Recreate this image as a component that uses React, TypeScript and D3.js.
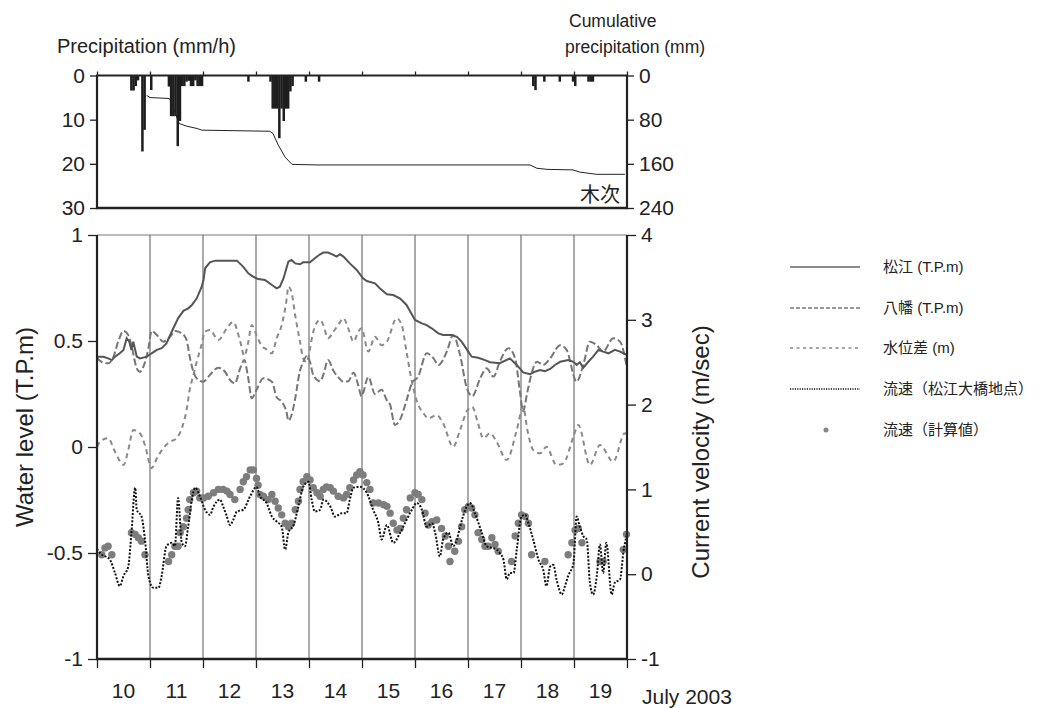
import React, { useEffect, useRef } from "react";
import * as d3 from "d3";

// all times are days counted from 10 July 2003 00:00
const dayLabels = ["10", "11", "12", "13", "14", "15", "16", "17", "18", "19"];
const rainTicks = [0, 10, 20, 30];
const cumTicks = [0, 80, 160, 240];
const levelTicks = [-1, -0.5, 0, 0.5, 1];
const velTicks = [-1, 0, 1, 2, 3, 4];

// hourly rain at Kisuki (hour index, mm/h)
const rainHours = [15, 16, 17, 18, 20, 21, 24, 32, 33, 34, 35, 36, 37, 38, 39, 40, 41, 42, 43, 44, 45, 46, 47, 68, 78, 79, 80, 81, 82, 83, 84, 85, 86, 87, 88, 94, 100, 197, 198, 202, 209, 215, 216, 222, 223, 224];
const rainMm = [3.4, 3.4, 2.4, 1.1, 17.2, 12.3, 3.3, 2.5, 9.2, 9.2, 9.2, 16, 10.3, 2.4, 2.4, 1.4, 1.2, 2.4, 2.4, 1.1, 2.4, 2.4, 2.4, 1.4, 1.4, 7.5, 7.5, 7.5, 14.2, 7.5, 10.3, 7.5, 7.5, 3.6, 2.4, 1.4, 1.4, 2.4, 3.3, 1.4, 1.4, 1.4, 2.4, 1.4, 1.4, 1.4];

const cumRain = [[0.937, 36], [1.0, 40], [1.34, 41.5], [1.38, 43], [1.55, 87], [1.7, 92], [1.89, 96], [1.98, 99], [3.26, 101], [3.32, 105], [3.42, 126], [3.55, 148], [3.68, 161], [4.15, 162], [8.17, 162], [8.3, 168], [8.49, 170], [8.98, 171], [9.11, 175], [9.43, 179], [9.96, 179]];

const matsue = [[0, 0.426], [0.12, 0.426], [0.21, 0.418], [0.28, 0.41], [0.34, 0.426], [0.43, 0.442], [0.5, 0.458], [0.56, 0.513], [0.61, 0.497], [0.65, 0.458], [0.685, 0.497], [0.75, 0.426], [0.81, 0.418], [0.94, 0.426], [1.03, 0.442], [1.13, 0.458], [1.22, 0.466], [1.31, 0.489], [1.38, 0.528], [1.44, 0.56], [1.53, 0.607], [1.63, 0.642], [1.72, 0.654], [1.79, 0.67], [1.88, 0.7], [1.975, 0.756], [2.01, 0.788], [2.04, 0.843], [2.13, 0.871], [2.23, 0.879], [2.64, 0.879], [2.76, 0.85], [2.855, 0.819], [2.95, 0.803], [3.04, 0.792], [3.17, 0.788], [3.3, 0.764], [3.39, 0.748], [3.45, 0.756], [3.52, 0.796], [3.61, 0.874], [3.67, 0.882], [3.74, 0.866], [3.83, 0.862], [3.89, 0.871], [4.02, 0.871], [4.11, 0.89], [4.21, 0.909], [4.27, 0.917], [4.36, 0.917], [4.46, 0.906], [4.52, 0.898], [4.585, 0.909], [4.65, 0.898], [4.77, 0.866], [4.9, 0.835], [5.02, 0.796], [5.09, 0.783], [5.245, 0.772], [5.34, 0.748], [5.47, 0.72], [5.59, 0.717], [5.72, 0.7], [5.84, 0.67], [6.0, 0.599], [6.13, 0.583], [6.22, 0.575], [6.315, 0.56], [6.44, 0.536], [6.53, 0.528], [6.69, 0.528], [6.79, 0.52], [6.88, 0.497], [7.005, 0.45], [7.07, 0.426], [7.19, 0.421], [7.32, 0.41], [7.415, 0.4], [7.6, 0.395], [7.79, 0.418], [7.92, 0.387], [8.04, 0.352], [8.17, 0.343], [8.26, 0.355], [8.36, 0.363], [8.45, 0.358], [8.55, 0.368], [8.64, 0.387], [8.74, 0.402], [8.89, 0.41], [8.99, 0.402], [9.05, 0.387], [9.11, 0.4], [9.175, 0.374], [9.27, 0.402], [9.36, 0.426], [9.46, 0.458], [9.55, 0.45], [9.65, 0.442], [9.77, 0.458], [9.87, 0.45], [10.0, 0.434]];

const yawata = [[0, 0.42], [0.1, 0.4], [0.21, 0.395], [0.3, 0.418], [0.4, 0.497], [0.5, 0.547], [0.59, 0.528], [0.65, 0.48], [0.75, 0.371], [0.81, 0.355], [0.875, 0.379], [0.97, 0.466], [1.03, 0.547], [1.13, 0.528], [1.25, 0.497], [1.38, 0.52], [1.47, 0.547], [1.6, 0.536], [1.69, 0.505], [1.755, 0.418], [1.82, 0.355], [1.88, 0.324], [2.0, 0.308], [2.13, 0.34], [2.29, 0.374], [2.415, 0.355], [2.51, 0.316], [2.6, 0.3], [2.7, 0.37], [2.78, 0.41], [2.85, 0.33], [2.92, 0.23], [3.01, 0.27], [3.14, 0.324], [3.3, 0.308], [3.39, 0.235], [3.485, 0.214], [3.58, 0.16], [3.61, 0.124], [3.67, 0.15], [3.74, 0.23], [3.83, 0.36], [3.89, 0.4], [3.96, 0.43], [4.02, 0.4], [4.08, 0.34], [4.21, 0.31], [4.27, 0.34], [4.36, 0.41], [4.46, 0.36], [4.55, 0.33], [4.65, 0.308], [4.74, 0.31], [4.84, 0.35], [4.93, 0.29], [4.99, 0.24], [5.12, 0.33], [5.245, 0.25], [5.37, 0.27], [5.47, 0.22], [5.53, 0.2], [5.62, 0.104], [5.72, 0.13], [5.84, 0.22], [5.94, 0.3], [6.06, 0.332], [6.22, 0.442], [6.35, 0.418], [6.44, 0.387], [6.6, 0.45], [6.72, 0.528], [6.85, 0.434], [6.975, 0.28], [7.08, 0.24], [7.23, 0.324], [7.35, 0.371], [7.48, 0.332], [7.6, 0.402], [7.76, 0.466], [7.89, 0.418], [7.98, 0.261], [8.04, 0.17], [8.12, 0.26], [8.23, 0.371], [8.3, 0.402], [8.42, 0.387], [8.55, 0.418], [8.74, 0.48], [8.86, 0.458], [9.05, 0.308], [9.175, 0.387], [9.3, 0.497], [9.43, 0.48], [9.55, 0.45], [9.74, 0.513], [9.87, 0.497], [10.0, 0.371]];

const levelDiff = [[0, 0.0], [0.057, 0.025], [0.21, 0.041], [0.34, -0.022], [0.5, -0.085], [0.59, -0.014], [0.685, 0.08], [0.81, 0.065], [0.905, 0.009], [1.03, -0.1], [1.13, -0.053], [1.25, -0.006], [1.38, 0.025], [1.5, 0.041], [1.6, 0.088], [1.69, 0.175], [1.755, 0.277], [1.82, 0.34], [1.88, 0.4], [1.96, 0.47], [2.04, 0.544], [2.13, 0.552], [2.29, 0.505], [2.45, 0.56], [2.57, 0.59], [2.7, 0.5], [2.78, 0.43], [2.85, 0.49], [2.92, 0.575], [3.01, 0.528], [3.1, 0.48], [3.2, 0.46], [3.3, 0.442], [3.39, 0.513], [3.485, 0.575], [3.58, 0.7], [3.61, 0.756], [3.67, 0.73], [3.74, 0.62], [3.83, 0.497], [3.89, 0.418], [3.96, 0.4], [4.02, 0.466], [4.08, 0.544], [4.21, 0.6], [4.27, 0.575], [4.36, 0.513], [4.46, 0.544], [4.55, 0.575], [4.65, 0.607], [4.74, 0.56], [4.84, 0.497], [4.93, 0.544], [4.99, 0.56], [5.12, 0.45], [5.245, 0.52], [5.37, 0.48], [5.47, 0.497], [5.655, 0.607], [5.75, 0.575], [5.84, 0.45], [5.94, 0.31], [6.03, 0.22], [6.16, 0.159], [6.25, 0.135], [6.41, 0.151], [6.53, 0.112], [6.72, 0.001], [6.85, 0.08], [6.98, 0.17], [7.08, 0.19], [7.18, 0.12], [7.29, 0.041], [7.415, 0.065], [7.54, 0.025], [7.73, -0.061], [7.92, 0.08], [8.04, 0.19], [8.12, 0.08], [8.23, -0.014], [8.36, -0.03], [8.48, 0.001], [8.67, -0.085], [8.8, -0.077], [8.99, 0.049], [9.08, 0.104], [9.3, -0.085], [9.49, 0.009], [9.74, -0.069], [9.96, 0.065], [10.0, 0.06]];

// observed velocity at Matsue Ohashi (m/s)
const velObserved = [[0, 0.3], [0.057, 0.25], [0.245, 0.17], [0.34, 0.015], [0.43, -0.14], [0.5, -0.02], [0.59, 0.09], [0.65, 0.49], [0.72, 1.02], [0.75, 0.76], [0.84, 0.68], [0.905, 0.41], [0.97, -0.02], [1.06, -0.16], [1.16, -0.16], [1.22, -0.02], [1.31, 0.33], [1.41, 0.37], [1.47, 0.33], [1.53, 0.9], [1.6, 0.37], [1.66, 0.33], [1.72, 0.56], [1.79, 0.88], [1.85, 1.02], [1.94, 0.92], [2.04, 0.76], [2.13, 0.7], [2.2, 0.8], [2.32, 0.88], [2.38, 0.8], [2.45, 0.68], [2.51, 0.58], [2.57, 0.64], [2.64, 0.74], [2.76, 0.76], [2.89, 0.92], [3.01, 1.03], [3.075, 0.92], [3.2, 0.84], [3.3, 0.68], [3.39, 0.62], [3.485, 0.56], [3.55, 0.29], [3.61, 0.49], [3.71, 0.58], [3.8, 0.8], [3.89, 1.03], [3.99, 1.09], [4.05, 0.88], [4.11, 0.74], [4.21, 0.76], [4.27, 0.88], [4.4, 0.8], [4.49, 0.68], [4.62, 0.72], [4.71, 0.72], [4.77, 0.88], [4.84, 1.02], [4.96, 1.03], [5.09, 0.96], [5.21, 0.76], [5.31, 0.6], [5.37, 0.41], [5.47, 0.58], [5.59, 0.37], [5.72, 0.49], [5.84, 0.64], [5.94, 0.76], [6.03, 0.84], [6.13, 0.76], [6.22, 0.56], [6.32, 0.6], [6.38, 0.49], [6.47, 0.21], [6.53, 0.41], [6.63, 0.49], [6.72, 0.33], [6.79, 0.41], [6.85, 0.56], [6.98, 0.8], [7.04, 0.84], [7.13, 0.72], [7.26, 0.49], [7.35, 0.33], [7.45, 0.31], [7.54, 0.29], [7.6, 0.25], [7.67, 0.17], [7.73, -0.06], [7.79, 0.015], [7.86, 0.015], [7.92, 0.29], [8.01, 0.68], [8.08, 0.7], [8.14, 0.6], [8.23, 0.41], [8.33, 0.17], [8.42, 0.05], [8.48, -0.14], [8.55, 0.09], [8.61, 0.11], [8.67, -0.06], [8.77, -0.24], [8.83, -0.14], [8.89, -0.02], [8.99, 0.13], [9.05, 0.68], [9.11, 0.56], [9.175, 0.45], [9.24, 0.41], [9.3, -0.1], [9.36, -0.24], [9.43, -0.02], [9.49, 0.35], [9.55, 0.015], [9.61, 0.37], [9.71, -0.24], [9.77, -0.1], [9.87, -0.06], [9.93, 0.25], [9.99, 0.45]];

// computed velocity (m/s)
const velComputed = [[0.09, 0.23], [0.15, 0.31], [0.21, 0.33], [0.28, 0.23], [0.65, 0.49], [0.72, 0.47], [0.78, 0.43], [0.84, 0.39], [0.905, 0.23], [1.35, 0.15], [1.41, 0.23], [1.47, 0.33], [1.53, 0.33], [1.57, 0.49], [1.63, 0.56], [1.69, 0.66], [1.72, 0.76], [1.75, 0.88], [1.82, 0.96], [1.88, 0.98], [1.94, 0.9], [2.01, 0.9], [2.1, 0.92], [2.2, 0.96], [2.29, 1.0], [2.38, 1.0], [2.45, 0.98], [2.51, 0.94], [2.6, 0.88], [2.7, 1.0], [2.76, 1.09], [2.82, 1.15], [2.89, 1.23], [2.95, 1.23], [3.01, 1.13], [3.04, 1.05], [3.075, 0.94], [3.14, 0.92], [3.23, 0.88], [3.3, 0.94], [3.36, 0.86], [3.42, 0.78], [3.485, 0.7], [3.55, 0.6], [3.61, 0.56], [3.67, 0.6], [3.74, 0.76], [3.8, 0.86], [3.83, 1.0], [3.89, 1.09], [3.96, 1.15], [4.02, 1.11], [4.08, 1.02], [4.15, 0.96], [4.21, 0.92], [4.27, 1.0], [4.33, 1.03], [4.4, 1.02], [4.46, 0.98], [4.55, 0.92], [4.65, 0.9], [4.71, 0.94], [4.77, 1.02], [4.84, 1.11], [4.9, 1.17], [4.96, 1.21], [5.02, 1.17], [5.09, 1.08], [5.15, 1.0], [5.21, 0.84], [5.31, 0.84], [5.41, 0.82], [5.47, 0.8], [5.53, 0.72], [5.59, 0.6], [5.66, 0.52], [5.72, 0.54], [5.78, 0.66], [5.84, 0.76], [5.91, 0.9], [6.0, 0.96], [6.06, 0.94], [6.13, 0.88], [6.19, 0.72], [6.25, 0.58], [6.32, 0.62], [6.41, 0.64], [6.5, 0.54], [6.57, 0.45], [6.63, 0.33], [6.66, 0.15], [6.75, 0.27], [6.82, 0.39], [6.88, 0.56], [6.94, 0.76], [7.01, 0.8], [7.07, 0.78], [7.13, 0.7], [7.19, 0.49], [7.26, 0.41], [7.32, 0.33], [7.38, 0.33], [7.45, 0.43], [7.51, 0.35], [7.57, 0.27], [7.82, 0.15], [7.89, 0.45], [7.95, 0.6], [8.01, 0.7], [8.08, 0.68], [8.14, 0.6], [8.2, 0.23], [8.45, 0.15], [8.89, 0.23], [8.96, 0.37], [9.02, 0.52], [9.08, 0.54], [9.15, 0.37], [9.49, 0.15], [9.55, 0.15], [9.93, 0.29], [9.99, 0.47]];

const legendLabels = ["松江 (T.P.m)", "八幡 (T.P.m)", "水位差 (m)", "流速（松江大橋地点）", "流速（計算値）"];

const App = () => {
  const ref = useRef<SVGSVGElement>(null);

  useEffect(() => {
    const svg = d3.select(ref.current);
    svg.selectAll("*").remove();

    const font = "'Liberation Sans', Arial, sans-serif";
    const jpFont = "'Liberation Sans', 'Noto Sans CJK JP', sans-serif";
    const ink = "#222";

    const x = d3.scaleLinear().domain([0, 10]).range([97, 627]);
    const yRain = d3.scaleLinear().domain([0, 30]).range([75.5, 208]);
    const yCum = d3.scaleLinear().domain([0, 240]).range([75.5, 208]);
    const yLevel = d3.scaleLinear().domain([-1, 1]).range([659, 235]);
    const yVel = d3.scaleLinear().domain([-1, 4]).range([659, 235]);

    const styleAxis = (g) => {
      g.select(".domain").remove();
      g.selectAll(".tick line").attr("stroke", ink).attr("stroke-width", 1.3);
      g.selectAll(".tick text").attr("font-family", font).attr("font-size", 21).attr("fill", ink);
    };

    // ---------- top panel: precipitation ----------
    svg.append("g").selectAll("rect").data(rainHours).enter().append("rect")
      .attr("x", (h) => x(h / 24))
      .attr("width", (h) => x((h + 1) / 24) - x(h / 24) + 0.3)
      .attr("y", yRain(0))
      .attr("height", (h, i) => yRain(rainMm[i]) - yRain(0))
      .attr("fill", "#1e1e1e");

    svg.append("path").datum(cumRain)
      .attr("fill", "none").attr("stroke", "#222").attr("stroke-width", 1)
      .attr("d", d3.line().x((d) => x(d[0])).y((d) => yCum(d[1])));

    svg.append("g").attr("transform", "translate(97,0)")
      .call(d3.axisLeft(yRain).tickValues(rainTicks).tickSize(7).tickPadding(5)).call(styleAxis);
    svg.append("g").attr("transform", "translate(627,0)")
      .call(d3.axisRight(yCum).tickValues(cumTicks).tickSize(7).tickPadding(5)).call(styleAxis);
    svg.append("g").attr("transform", `translate(0,${yRain(0)})`)
      .call(d3.axisTop(x).tickValues(d3.range(0, 11)).tickSize(4).tickFormat(() => "")).call(styleAxis);

    // frame
    svg.append("line").attr("x1", 96).attr("x2", 628).attr("y1", yRain(0)).attr("y2", yRain(0)).attr("stroke", ink).attr("stroke-width", 1.8);
    svg.append("line").attr("x1", 96).attr("x2", 628).attr("y1", yRain(30)).attr("y2", yRain(30)).attr("stroke", ink).attr("stroke-width", 2.5);
    svg.append("line").attr("x1", 97).attr("x2", 97).attr("y1", yRain(0)).attr("y2", yRain(30)).attr("stroke", ink).attr("stroke-width", 2.2);
    svg.append("line").attr("x1", 627).attr("x2", 627).attr("y1", yRain(0)).attr("y2", yRain(30)).attr("stroke", ink).attr("stroke-width", 2.2);

    svg.append("text").attr("x", 620).attr("y", 202).attr("text-anchor", "end")
      .attr("font-family", "'Noto Sans CJK JP', sans-serif").attr("font-size", 20).attr("fill", ink).text("木次");

    svg.append("text").attr("x", 57).attr("y", 53).attr("font-family", font).attr("font-size", 20).attr("fill", ink).text("Precipitation (mm/h)");
    svg.append("text").attr("x", 569).attr("y", 27).attr("font-family", font).attr("font-size", 17.5).attr("fill", ink).text("Cumulative");
    svg.append("text").attr("x", 565).attr("y", 53).attr("font-family", font).attr("font-size", 17.5).attr("fill", ink).text("precipitation (mm)");

    // ---------- bottom panel: water level and velocity ----------
    svg.append("g").selectAll("line").data(d3.range(1, 10)).enter().append("line")
      .attr("x1", (d) => x(d)).attr("x2", (d) => x(d))
      .attr("y1", yLevel(1)).attr("y2", yLevel(-1))
      .attr("stroke", "#555").attr("stroke-width", 1);

    const lineL = d3.line().x((d) => x(d[0])).y((d) => yLevel(d[1]));
    const lineLSmooth = d3.line().curve(d3.curveMonotoneX).x((d) => x(d[0])).y((d) => yLevel(d[1]));
    const lineV = d3.line().curve(d3.curveMonotoneX).x((d) => x(d[0])).y((d) => yVel(d[1]));

    svg.append("path").datum(levelDiff)
      .attr("fill", "none").attr("stroke", "#8a8a8a").attr("stroke-width", 2).attr("stroke-dasharray", "5,4")
      .attr("d", lineLSmooth);
    svg.append("path").datum(yawata)
      .attr("fill", "none").attr("stroke", "#767676").attr("stroke-width", 2).attr("stroke-dasharray", "7,3")
      .attr("d", lineLSmooth);

    svg.append("g").selectAll("circle").data(velComputed).enter().append("circle")
      .attr("cx", (d) => x(d[0])).attr("cy", (d) => yVel(d[1])).attr("r", 3.7)
      .attr("fill", "#7d7d7d");

    svg.append("path").datum(velObserved)
      .attr("fill", "none").attr("stroke", "#111").attr("stroke-width", 2).attr("stroke-dasharray", "2,1.6")
      .attr("d", lineV);

    svg.append("path").datum(matsue)
      .attr("fill", "none").attr("stroke", "#555").attr("stroke-width", 2)
      .attr("d", lineL);

    svg.append("g").attr("transform", "translate(97,0)")
      .call(d3.axisLeft(yLevel).tickValues(levelTicks).tickSize(9).tickPadding(5).tickFormat((d) => String(d))).call(styleAxis);
    svg.append("g").attr("transform", "translate(627,0)")
      .call(d3.axisRight(yVel).tickValues(velTicks).tickSize(9).tickPadding(5).tickFormat((d) => String(d))).call(styleAxis);
    svg.append("g").attr("transform", `translate(0,${yLevel(-1)})`)
      .call(d3.axisBottom(x).tickValues(d3.range(0, 11)).tickSize(9).tickFormat(() => "")).call(styleAxis);

    svg.append("line").attr("x1", 97).attr("x2", 627).attr("y1", yLevel(1)).attr("y2", yLevel(1)).attr("stroke", "#777").attr("stroke-width", 1);
    svg.append("line").attr("x1", 96).attr("x2", 628).attr("y1", yLevel(-1)).attr("y2", yLevel(-1)).attr("stroke", ink).attr("stroke-width", 2.5);
    svg.append("line").attr("x1", 97).attr("x2", 97).attr("y1", yLevel(1)).attr("y2", yLevel(-1)).attr("stroke", ink).attr("stroke-width", 2.2);
    svg.append("line").attr("x1", 627).attr("x2", 627).attr("y1", yLevel(1)).attr("y2", yLevel(-1)).attr("stroke", ink).attr("stroke-width", 2.2);

    svg.append("g").selectAll("text").data(dayLabels).enter().append("text")
      .attr("x", (d, i) => x(i + 0.5)).attr("y", 698).attr("text-anchor", "middle")
      .attr("font-family", font).attr("font-size", 21).attr("fill", ink).text((d) => d);
    svg.append("text").attr("x", 642).attr("y", 704).attr("font-family", font).attr("font-size", 21).attr("fill", ink).text("July 2003");

    svg.append("text").attr("transform", "translate(24,427) rotate(-90)").attr("text-anchor", "middle")
      .attr("dominant-baseline", "central").attr("font-family", font).attr("font-size", 24).attr("fill", ink)
      .text("Water level (T.P.m)");
    svg.append("text").attr("transform", "translate(700,452) rotate(-90)").attr("text-anchor", "middle")
      .attr("dominant-baseline", "central").attr("font-family", font).attr("font-size", 24).attr("fill", ink)
      .text("Current velocity (m/sec)");

    // ---------- legend ----------
    const rowY = [267, 308, 348, 389, 430];
    const legendStyles = [
      { stroke: "#666", dash: null, width: 1.6 },
      { stroke: "#777", dash: "4,2", width: 1.3 },
      { stroke: "#888", dash: "3,3.5", width: 1.3 },
      { stroke: "#111", dash: "1.2,1.2", width: 1.5 },
    ];
    const legend = svg.append("g");
    legendStyles.forEach((s, i) => {
      const l = legend.append("line").attr("x1", 790).attr("x2", 860).attr("y1", rowY[i]).attr("y2", rowY[i])
        .attr("stroke", s.stroke).attr("stroke-width", s.width);
      if (s.dash) l.attr("stroke-dasharray", s.dash);
    });
    legend.append("circle").attr("cx", 826).attr("cy", rowY[4]).attr("r", 2.5).attr("fill", "#888");
    legend.selectAll("text").data(legendLabels).enter().append("text")
      .attr("x", 883).attr("y", (d, i) => rowY[i]).attr("dy", "0.35em")
      .attr("font-family", jpFont).attr("font-size", 15).attr("fill", ink).text((d) => d);
  }, []);

  return <svg ref={ref} width={1047} height={708} style={{ position: "absolute", left: 0, top: 0, background: "#fff" }}></svg>;
};

export default App;
